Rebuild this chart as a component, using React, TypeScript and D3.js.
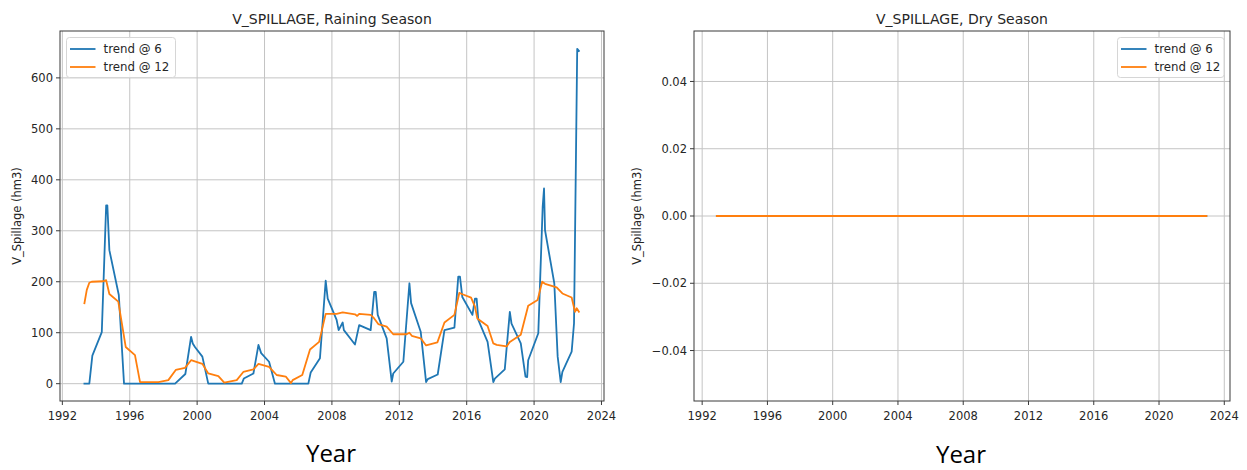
import React from "react";
import * as d3 from "d3";

// ---------- data ----------
const rainDates6 = [
  1993.31, 1993.6, 1993.78, 1994.34, 1994.6, 1994.67, 1994.79, 1995.35, 1995.66, 1998.69,
  1999.3, 1999.64, 1999.74, 1999.87, 2000.31, 2000.66, 2002.65, 2002.77, 2003.34, 2003.64,
  2003.8, 2004.27, 2004.62, 2006.6, 2006.74, 2007.29, 2007.63, 2007.75, 2008.28, 2008.4,
  2008.64, 2008.71, 2009.37, 2009.62, 2010.3, 2010.51, 2010.6, 2010.72, 2011.25, 2011.55,
  2011.64, 2012.24, 2012.6, 2012.7, 2013.27, 2013.59, 2013.69, 2014.28, 2014.68, 2015.27,
  2015.5, 2015.6, 2015.74, 2016.34, 2016.49, 2016.59, 2016.69, 2017.24, 2017.58, 2017.67,
  2018.26, 2018.56, 2018.66, 2019.21, 2019.49, 2019.59, 2019.65, 2020.25, 2020.51, 2020.59,
  2020.65, 2021.2, 2021.4, 2021.58, 2021.68, 2022.23, 2022.37, 2022.56, 2022.66,
];
const rainTrend6 = [
  0, 0, 55, 101, 350, 350, 262, 174, 0, 0,
  19, 92, 79, 72, 53, 0, 0, 10, 20, 76,
  60, 43, 0, 0, 22, 50, 202, 167, 125, 105,
  120, 105, 77, 115, 105, 180, 180, 135, 89, 4,
  20, 43, 197, 158, 102, 3, 9, 18, 105, 110,
  210, 210, 170, 135, 167, 167, 125, 82, 3, 10,
  28, 141, 118, 79, 14, 13, 46, 99, 347, 383,
  301, 197, 53, 3, 23, 63, 118, 657, 653,
];
const rainDates12 = [
  1993.31, 1993.45, 1993.6, 1993.74, 1994.43, 1994.6, 1994.79, 1995.32, 1995.76, 1996.31,
  1996.61, 1997.7, 1998.29, 1998.73, 1999.28, 1999.64, 2000.31, 2000.66, 2001.26, 2001.61,
  2002.35, 2002.74, 2003.34, 2003.64, 2004.27, 2004.72, 2005.26, 2005.57, 2005.67, 2006.24,
  2006.7, 2007.24, 2007.63, 2008.28, 2008.64, 2009.37, 2009.5, 2009.62, 2010.3, 2010.51,
  2010.75, 2011.25, 2011.64, 2012.43, 2012.6, 2012.74, 2013.27, 2013.59, 2014.26, 2014.68,
  2015.27, 2015.56, 2015.71, 2016.26, 2016.49, 2016.63, 2017.24, 2017.58, 2017.78, 2018.37,
  2018.56, 2019.21, 2019.65, 2020.21, 2020.48, 2020.65, 2021.34, 2021.68, 2022.23, 2022.43,
  2022.53, 2022.66,
];
const rainTrend12 = [
  158, 184, 198, 200, 201, 203, 176, 161, 72, 56,
  3, 3, 7, 27, 31, 46, 39, 20, 15, 2,
  7, 23, 28, 39, 33, 17, 14, 1, 7, 17,
  67, 82, 137, 137, 140, 136, 133, 137, 135, 128,
  117, 112, 97, 97, 100, 94, 89, 75, 81, 120,
  135, 178, 176, 169, 151, 128, 113, 79, 76, 73,
  82, 96, 153, 164, 200, 196, 189, 177, 169, 141,
  148, 141,
];
const dryDates = [
  1992.9, 1993.9, 1994.9, 1995.9, 1996.9, 1997.9, 1998.9, 1999.9, 2000.9, 2001.9,
  2002.9, 2003.9, 2004.9, 2005.9, 2006.9, 2007.9, 2008.9, 2009.9, 2010.9, 2011.9,
  2012.9, 2013.9, 2014.9, 2015.9, 2016.9, 2017.9, 2018.9, 2019.9, 2020.9, 2021.9, 2022.9,
];
const dryTrend6 = [0, 0, 0, 0, 0, 0, 0, 0, 0, 0, 0, 0, 0, 0, 0, 0, 0, 0, 0, 0, 0, 0, 0, 0, 0, 0, 0, 0, 0, 0, 0];
const dryTrend12 = [0, 0, 0, 0, 0, 0, 0, 0, 0, 0, 0, 0, 0, 0, 0, 0, 0, 0, 0, 0, 0, 0, 0, 0, 0, 0, 0, 0, 0, 0, 0];

const yearTicks = [1992, 1996, 2000, 2004, 2008, 2012, 2016, 2020, 2024];
const rainYTicks = [0, 100, 200, 300, 400, 500, 600];
const rainYLabels = ["0", "100", "200", "300", "400", "500", "600"];
const dryYTicks = [-0.04, -0.02, 0, 0.02, 0.04];
const dryYLabels = ["\u22120.04", "\u22120.02", "0.00", "0.02", "0.04"];
const seriesNames = ["trend @ 6", "trend @ 12"];
const titles = ["V_SPILLAGE, Raining Season", "V_SPILLAGE, Dry Season"];

const BLUE = "#1f77b4";
const ORANGE = "#ff7f0e";
const MPL = "DejaVu Sans, sans-serif";

type PanelProps = {
  left: number;
  right: number;
  xDomain: [number, number];
  yDomain: [number, number];
  yTicks: number[];
  yLabels: string[];
  title: string;
  series: { dates: number[]; values: number[]; color: string }[];
  legendX: number;
  legendW: number;
  yLabelX: number;
  yearX: number;
  yearY: number;
};

function Panel(p: PanelProps) {
  const top = 31;
  const bottom = 401;
  const x = d3.scaleLinear().domain(p.xDomain).range([p.left, p.right]);
  const y = d3.scaleLinear().domain(p.yDomain).range([bottom, top]);
  const line = d3
    .line<[number, number]>()
    .x((d) => x(d[0]))
    .y((d) => y(d[1]));
  const axisColor = "#3a3a3a";
  const gridColor = "#c4c4c4";
  return (
    <g>
      {yearTicks.map((t) => (
        <line key={"gx" + t} x1={x(t)} x2={x(t)} y1={top} y2={bottom} stroke={gridColor} strokeWidth={1} />
      ))}
      {p.yTicks.map((t) => (
        <line key={"gy" + t} x1={p.left} x2={p.right} y1={y(t)} y2={y(t)} stroke={gridColor} strokeWidth={1} />
      ))}
      <g>
        {p.series.map((s, i) => (
          <path
            key={i}
            d={line(s.dates.map((d, j) => [d, s.values[j]] as [number, number])) || ""}
            fill="none"
            stroke={s.color}
            strokeWidth={1.8}
            strokeLinejoin="round"
            strokeLinecap="square"
          />
        ))}
      </g>
      <rect x={p.left} y={top} width={p.right - p.left} height={bottom - top} fill="none" stroke={axisColor} strokeWidth={1} />
      {yearTicks.map((t) => (
        <g key={"xt" + t}>
          <line x1={x(t)} x2={x(t)} y1={bottom} y2={bottom + 4} stroke={axisColor} strokeWidth={1} />
          <text x={x(t)} y={420} textAnchor="middle" fontFamily={MPL} fontSize={11.5} fill="#262626">
            {t}
          </text>
        </g>
      ))}
      {p.yTicks.map((t, i) => (
        <g key={"yt" + t}>
          <line x1={p.left - 4} x2={p.left} y1={y(t)} y2={y(t)} stroke={axisColor} strokeWidth={1} />
          <text x={p.left - 7} y={y(t)} dy="0.36em" textAnchor="end" fontFamily={MPL} fontSize={11.5} fill="#262626">
            {p.yLabels[i]}
          </text>
        </g>
      ))}
      <text x={(p.left + p.right) / 2} y={24} textAnchor="middle" fontFamily={MPL} fontSize={14} fill="#262626">
        {p.title}
      </text>
      <text
        transform={`translate(${p.yLabelX},${(top + bottom) / 2}) rotate(-90)`}
        textAnchor="middle"
        dy="0.36em"
        fontFamily={MPL}
        fontSize={11.5}
        fill="#262626"
      >
        V_Spillage (hm3)
      </text>
      <g>
        <rect x={p.legendX} y={37.5} width={p.legendW} height={40} rx={3} fill="white" fillOpacity={0.85} stroke="#d6d6d6" strokeWidth={1} />
        {seriesNames.map((n, i) => (
          <g key={n}>
            <line
              x1={p.legendX + 3.5}
              x2={p.legendX + 29}
              y1={49 + i * 18}
              y2={49 + i * 18}
              stroke={i === 0 ? BLUE : ORANGE}
              strokeWidth={1.8}
            />
            <text x={p.legendX + 37} y={49 + i * 18} dy="0.36em" fontFamily={MPL} fontSize={11.8} fill="#262626">
              {n}
            </text>
          </g>
        ))}
      </g>
      <text x={p.yearX} y={p.yearY} textAnchor="middle" fontFamily="Open Sans, Liberation Sans, sans-serif" fontSize={24} fill="#000">
        Year
      </text>
    </g>
  );
}

export default function App() {
  return (
    <svg
      width={1247}
      height={470}
      style={{ position: "absolute", left: 0, top: 0, background: "white" }}
      xmlns="http://www.w3.org/2000/svg"
    >
      <rect x={0} y={0} width={1247} height={470} fill="white" />
      <Panel
        left={60}
        right={604}
        xDomain={[1991.86, 2024.15]}
        yDomain={[-34, 692]}
        yTicks={rainYTicks}
        yLabels={rainYLabels}
        title={titles[0]}
        series={[
          { dates: rainDates6, values: rainTrend6, color: BLUE },
          { dates: rainDates12, values: rainTrend12, color: ORANGE },
        ]}
        legendX={66.5}
        legendW={109}
        yLabelX={17}
        yearX={331}
        yearY={462}
      />
      <Panel
        left={694}
        right={1230}
        xDomain={[1991.5, 2024.35]}
        yDomain={[-0.055, 0.055]}
        yTicks={dryYTicks}
        yLabels={dryYLabels}
        title={titles[1]}
        series={[
          { dates: dryDates, values: dryTrend6, color: BLUE },
          { dates: dryDates, values: dryTrend12, color: ORANGE },
        ]}
        legendX={1117.5}
        legendW={106.5}
        yLabelX={637}
        yearX={961}
        yearY={463}
      />
    </svg>
  );
}
